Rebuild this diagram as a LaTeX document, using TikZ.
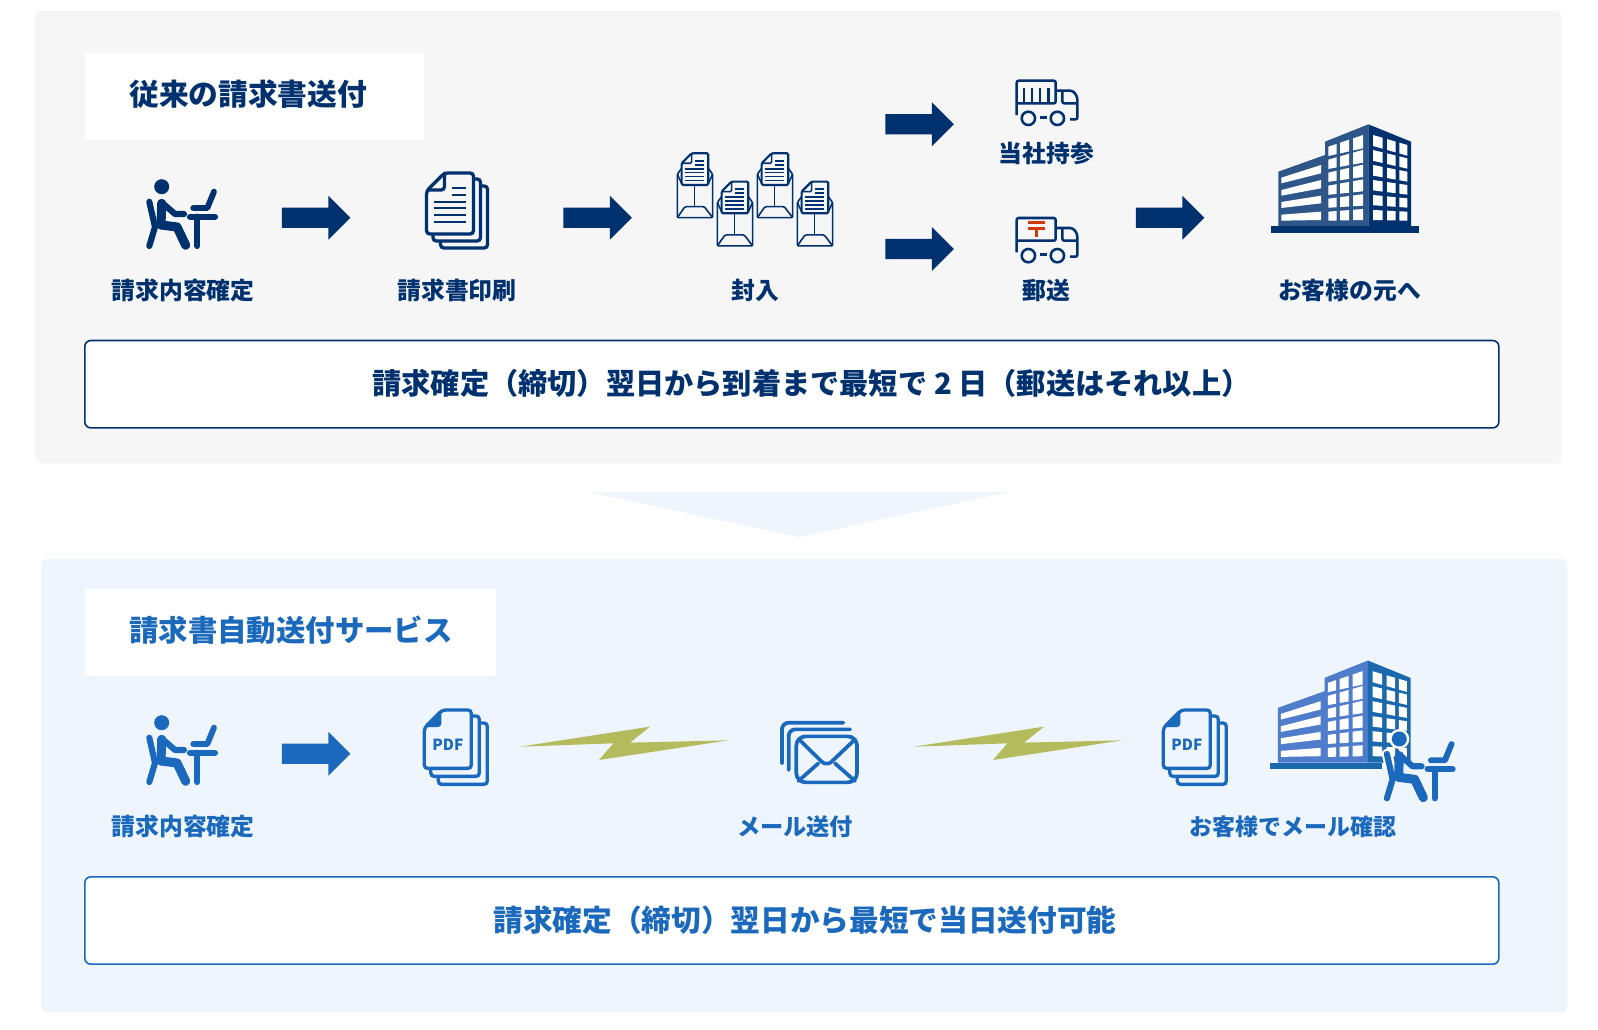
\documentclass[tikz,border=0pt]{standalone}
\usepackage{fontspec}
\newfontfamily\jpfont{Noto Sans CJK JP}
\usetikzlibrary{shapes.arrows}

\definecolor{navy}{HTML}{00316F}
\definecolor{azure}{HTML}{1B69BC}
\definecolor{greypanel}{HTML}{F6F6F6}
\definecolor{bluepanel}{HTML}{EEF5FD}
\definecolor{boltgreen}{HTML}{B4BB5D}
\definecolor{postred}{HTML}{D03A0E}
\definecolor{wingblue}{HTML}{4F7CCB}
\definecolor{sideblue}{HTML}{1B69AD}

\tikzset{
    third/.style={scale=1/3},
    limb/.style={draw=ink, line cap=round, line join=round},
    icon_line/.style={draw=ink, line width=2.5pt, rounded corners=2.5pt, line cap=round},
    thin_line/.style={draw=ink, line width=1.9pt, rounded corners=1.5pt},
    fine_line/.style={draw=ink, line width=1.2pt, rounded corners=1pt},
    % 人物
    pics/person/.style={code={
        \fill[ink] (21.7,11.7) circle (7.5);
        \draw[limb, line width=4.6pt] (9.3,26.7) -- (15,52) -- (9.3,71);
        \draw[limb, line width=6.8pt] (21.7,28.3) -- (21,50) -- (37,52) -- (45.7,70.3);
        \draw[limb, line width=4.6pt] (22.7,28.3) -- (35,39) -- (44,39);
        \draw[limb, line width=4.6pt] (50,41.7) -- (75,41.7);
        \draw[limb, line width=4.6pt] (57.3,41.7) -- (57.3,71);
        \draw[limb, line width=4.4pt] (53.3,33) -- (67.3,33) -- (74,16.7);
    }},
    % 重なった用紙
    pics/pagestack/.style 2 args={code={
        \draw[icon_line] (18,0) -- (47,0) -- (47,#1) -- (0,#1) -- (0,18) -- cycle;
        \draw[icon_line] (6.5,#1+1.5) -- (6.5,#1+7+#2/2) -- (54+#2/2,#1+7+#2/2) -- (54+#2/2,6) -- (48.5,6);
        \draw[icon_line] (14,#1+7.5+#2) -- (14,#1+14+#2) -- (61+#2,#1+14+#2) -- (61+#2,13) -- (55+#2,13);
    }},
    pics/invoice/.style={code={
        \pic {pagestack={61}{0}};
        \draw[icon_line] (18,0) -- (18,17) -- (1,17);
        \foreach \y in {15.3,22} \draw[draw=ink, line width=1.7pt] (25,\y) -- (39.5,\y);
        \foreach \y in {28.7,35.3,42,48.7} \draw[draw=ink, line width=1.7pt] (7.5,\y) -- (39.5,\y);
    }},
    pics/pdfdoc/.style={code={
        \pic {pagestack={58.4}{2}};
        \fill[ink, rounded corners=1pt] (0,17) -- (17,0) -- (17,15) -- (15,17) -- cycle;
        \node[font=\jpfont\bfseries\fontsize{11.5}{12}\selectfont, text=ink] (label) at (23.5,35) {PDF};
    }},
    % 封筒と請求書
    pics/sealed/.style={code={
        \draw[fine_line] (13,45) -- (0,63) -- (0,193) -- (106,193) -- (106,63) -- (93,45);
        \draw[fine_line] (0,63) -- (13,90);
        \draw[fine_line] (106,63) -- (93,90);
        \draw[fine_line] (0,193) -- (23,160) -- (81,160) -- (106,193);
        \draw[fine_line] (51,95) -- (51,160);
        \draw[fine_line, line width=1.6pt] (43,0) -- (93,0) -- (93,95) -- (13,95) -- (13,30) -- cycle;
        \draw[fine_line] (43,0) -- (43,30) -- (13,30);
        \foreach \y in {23,35} \draw[draw=ink, line width=1.2pt] (53,\y) -- (81,\y);
        \foreach \y in {47,58,70,82} \draw[draw=ink, line width=1.2pt] (23,\y) -- (81,\y);
    }},
    % トラック
    pics/truck/.style={code={
        \draw[thin_line] (0,103) -- (0,0) -- (117,0) -- (117,68) -- (0,68);
        \draw[thin_line] (117,30) -- (155,30) .. controls (172,30) and (182,45) .. (182,63) -- (182,116) -- (160,116);
        \draw[thin_line] (137,30) -- (137,68) -- (182,68);
        \draw[draw=ink, line width=1.9pt] (35,113) circle (20);
        \draw[draw=ink, line width=1.9pt] (122,113) circle (20);
        \draw[draw=ink, line width=1.9pt] (70,110) -- (90,110);
    }},
    pics/slats/.style={code={
        \foreach \x in {22,45,70,95}
            \draw[draw=ink, line width=1.7pt] (\x,23) -- (\x,68);
    }},
    pics/mailstack/.style={code={
        \draw[icon_line, line width=2.8pt, rounded corners=5pt] (0,122) -- (0,0) -- (184,0);
        \draw[icon_line, line width=2.8pt, rounded corners=5pt] (20,142) -- (20,20) -- (204,20);
        \draw[icon_line, line width=2.8pt, fill=bluepanel, rounded corners=7pt] (43,41) rectangle (225,179);
        \draw[icon_line, line width=2.8pt] (51,50) -- (114,112) .. controls (127,124) and (141,124) .. (154,112) -- (219,50);
        \draw[icon_line, line width=2.8pt] (49,175) -- (109,122);
        \draw[icon_line, line width=2.8pt] (219,175) -- (159,122);
    }},
    % ビル
    pics/tower/.style={code={
        \fill[wing] (85,185) -- (225,135) -- (225,95) -- (355,43) -- (355,349) -- (85,349) -- cycle;
        \fill[side] (355,43) -- (483,95) -- (483,349) -- (355,349) -- cycle;
        \fill[side] (62,349) rectangle (#1,368);
        \foreach \ya/\yb/\yc/\yd in {203/165/190/220,240/210/235/257,276/257/280/294,314/305/330/332}
            \fill[white] (94,\ya) -- (213,\yb) -- (213,\yc) -- (94,\yd) -- cycle;
        \foreach \r in {0,...,5}{
            \foreach \xa/\xb in {235/260,270/297,309/339}{
                \pgfmathsetmacro\ta{110+39*\r+(-35+5.4*\r)*(\xa-235)/104}
                \pgfmathsetmacro\tb{110+39*\r+(-35+5.4*\r)*(\xb-235)/104}
                \pgfmathsetmacro\ba{138+38.8*\r+(-23+4.2*\r)*(\xa-235)/104}
                \pgfmathsetmacro\bb{138+38.8*\r+(-23+4.2*\r)*(\xb-235)/104}
                \fill[white] (\xa,\ta) -- (\xb,\tb) -- (\xb,\bb) -- (\xa,\ba) -- cycle;
            }
            \foreach \xa/\xb in {369/398,411/437,448/472}{
                \pgfmathsetmacro\ta{75+45*\r+(30-5*\r)*(\xa-369)/103}
                \pgfmathsetmacro\tb{75+45*\r+(30-5*\r)*(\xb-369)/103}
                \pgfmathsetmacro\ba{108+44.4*\r+(29-5.4*\r)*(\xa-369)/103}
                \pgfmathsetmacro\bb{108+44.4*\r+(29-5.4*\r)*(\xb-369)/103}
                \fill[white] (\xa,\ta) -- (\xb,\tb) -- (\xb,\bb) -- (\xa,\ba) -- cycle;
            }
        }
    }},
    pics/bolt/.style={code={
        \fill[boltgreen] (360,200) -- (750,140) -- (690,188) -- (985,181) -- (597,240) -- (640,190) -- cycle;
    }}
}

\begin{document}
\begin{tikzpicture}[
    x=0.75pt, y=-0.75pt,
    next_arrow/.style={single arrow, fill=ink, inner xsep=0pt, inner ysep=7.35pt, minimum height=51.4pt,
        single arrow head extend=8.9pt, single arrow tip angle=90, single arrow head indent=0pt},
    step_label/.style={font=\jpfont\bfseries\fontsize{#1}{20}\selectfont, text=ink, inner sep=0pt},
    step_label/.default=17.85,
    head_label/.style={font=\jpfont\bfseries\fontsize{#1}{26}\selectfont, text=ink, inner sep=0pt, anchor=west},
    span_box/.style={draw=ink, line width=1.2pt, fill=white, rounded corners=4.5pt,
        minimum width=1060.5pt, minimum height=65.5pt, inner sep=0pt},
    span_label/.style={font=\jpfont\bfseries\fontsize{#1}{26}\selectfont, text=ink, inner sep=0pt}
]
    \useasboundingbox (0,0) rectangle (1598,1030);
    \fill[white] (0,0) rectangle (1598,1030);

    % 従来の請求書送付
    \begin{scope}
        \colorlet{ink}{navy}\colorlet{wing}{navy!82!white}\colorlet{side}{navy}
        \fill[greypanel, rounded corners=4pt] (35,11) rectangle (1561.7,463.7);
        \fill[white] (85,52.7) rectangle (424,140);
        \node[head_label=22.3] (oldhead) at (129,94) {従来の請求書送付};
        \pic at (140,175) {person};
        \pic at (426.5,173) {invoice};
        \foreach \dx/\dy in {0/0,40/28.3,80/0,120/28.3}
            \pic[third] at (677.3+\dx,153.3+\dy) {sealed};
        \pic[third] at (1016.7,80.7) {truck};
        \pic[third] at (1016.7,80.7) {slats};
        \pic[third] at (1016.7,218) {truck};
        % 〒
        \draw[draw=postred, line width=2.4pt] (1028.3,222.7) -- (1045,222.7);
        \draw[draw=postred, line width=2.2pt] (1028.3,228.3) -- (1045,228.3);
        \draw[draw=postred, line width=2.2pt] (1036.5,228.3) -- (1036.5,236.7);
        \pic[third] at (1250,110) {tower=507};
        \node[next_arrow] (arrowa) at (311,217.7) {};
        \node[next_arrow] (arrowb) at (592.5,217.7) {};
        \node[next_arrow] (arrowc) at (914.5,124.3) {};
        \node[next_arrow] (arrowd) at (914.5,249) {};
        \node[next_arrow] (arrowe) at (1165,217.7) {};
        \node[step_label] (lblinput) at (183,290.4) {請求内容確定};
        \node[step_label] (lblprint) at (457,290.4) {請求書印刷};
        \node[step_label] (lblseal) at (755.5,290.4) {封入};
        \node[step_label] (lblhand) at (1046.3,153.7) {当社持参};
        \node[step_label] (lblpost) at (1046.5,290.4) {郵送};
        \node[step_label] (lblcust) at (1349.5,290.4) {お客様の元へ};
        \node[span_box] (oldbox) at (791.8,384.2) {};
        \node[span_label=21.9] (oldspan) at (811.5,383.6) {請求確定（締切）翌日から到着まで最短で 2 日（郵送はそれ以上）};
    \end{scope}

    % 下向きの三角
    \fill[bluepanel] (589,492) -- (1009,492) -- (799,537) -- cycle;

    % 請求書自動送付サービス
    \begin{scope}
        \colorlet{ink}{azure}\colorlet{wing}{wingblue}\colorlet{side}{sideblue}
        \fill[bluepanel, rounded corners=4pt] (41,559) rectangle (1567,1012);
        \fill[white] (85,589) rectangle (496,676);
        \node[head_label=22.05] (newhead) at (129,630) {請求書自動送付サービス};
        \pic at (140,711) {person};
        \node[next_arrow] (arrowf) at (311,753.7) {};
        \pic at (424.3,710) {pdfdoc};
        \pic[third] at (400,680) {bolt};
        \pic[third] at (794,680) {bolt};
        \pic[third] at (782,722.7) {mailstack};
        \pic at (1163.3,710) {pdfdoc};
        \pic[third] at (1249.5,646.2) {tower=396};
        % 手前の人物
        \fill[white] (1399.3,739) circle (10);
        \draw[white, line width=8pt, line cap=round] (1387,754) -- (1391,770);
        \pic at (1377.6,727.3) {person};
        \node[step_label] (lblinputb) at (183,826.5) {請求内容確定};
        \node[step_label=17.4] (lblmail) at (795,826.5) {メール送付};
        \node[step_label=17.25] (lblcheck) at (1293.3,826.5) {お客様でメール確認};
        \node[span_box] (newbox) at (791.8,920.5) {};
        \node[span_label=22.25] (newspan) at (805,920) {請求確定（締切）翌日から最短で当日送付可能};
    \end{scope}
\end{tikzpicture}
\end{document}
